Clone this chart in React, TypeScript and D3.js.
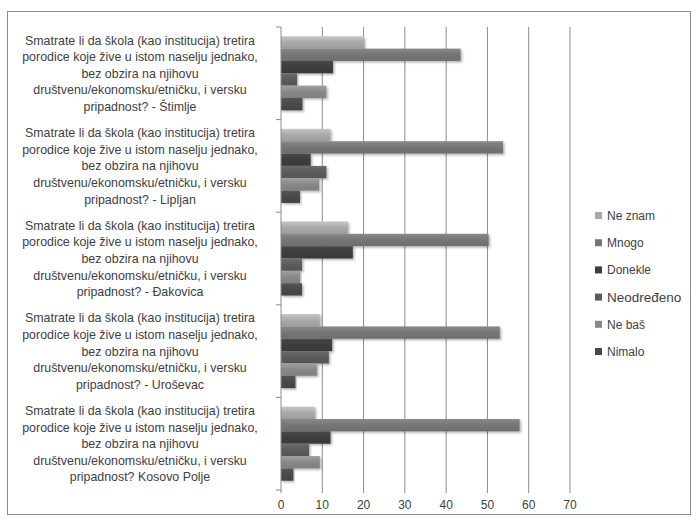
import React from "react";
import * as d3 from "d3";

const categories: string[][] = [
  ["Smatrate li da škola (kao institucija) tretira", "porodice koje žive u istom naselju jednako,", "bez obzira na njihovu", "društvenu/ekonomsku/etničku, i versku", "pripadnost? - Štimlje"],
  ["Smatrate li da škola (kao institucija) tretira", "porodice koje žive u istom naselju jednako,", "bez obzira na njihovu", "društvenu/ekonomsku/etničku, i versku", "pripadnost? - Lipljan"],
  ["Smatrate li da škola (kao institucija) tretira", "porodice koje žive u istom naselju jednako,", "bez obzira na njihovu", "društvenu/ekonomsku/etničku, i versku", "pripadnost? - Đakovica"],
  ["Smatrate li da škola (kao institucija) tretira", "porodice koje žive u istom naselju jednako,", "bez obzira na njihovu", "društvenu/ekonomsku/etničku, i versku", "pripadnost? - Uroševac"],
  ["Smatrate li da škola (kao institucija) tretira", "porodice koje žive u istom naselju jednako,", "bez obzira na njihovu", "društvenu/ekonomsku/etničku, i versku", "pripadnost? Kosovo Polje"],
];

const seriesNames = ["Ne znam", "Mnogo", "Donekle", "Neodređeno", "Ne baš", "Nimalo"];
const neZnam = [20.1, 12.0, 16.2, 9.4, 8.2];
const mnogo = [43.5, 53.8, 50.3, 53.0, 57.8];
const donekle = [12.6, 7.2, 17.4, 12.4, 12.0];
const neodredjeno = [3.9, 11.0, 5.1, 11.6, 6.8];
const neBas = [11.0, 9.2, 4.6, 8.7, 9.4];
const nimalo = [5.2, 4.6, 5.1, 3.5, 3.0];
const seriesValues = [neZnam, mnogo, donekle, neodredjeno, neBas, nimalo];
const xTicks = [0, 10, 20, 30, 40, 50, 60, 70];

const colors = ["#a9a9a9", "#757575", "#3d3d3d", "#5b5b5b", "#888888", "#484848"];

export default function App() {
  const W = 699, H = 520;
  const left = 281, right = 570, top = 27, bottom = 490;
  const x = d3.scaleLinear().domain([0, 70]).range([left, right]);
  const idx = categories.map((_, i) => String(i));
  const y = d3.scaleBand<string>().domain(idx).range([top, bottom]).paddingInner(0).paddingOuter(0);
  const inner = d3.scaleBand<string>().domain(seriesNames).range([0, y.bandwidth()]).paddingInner(0).paddingOuter(0.75);
  const font = "'Liberation Sans', Arial, sans-serif";
  const labelX = 140;
  const lineH = 16.6;
  const legendY0 = 216;
  const legendStep = 27.2;

  return (
    <svg width={W} height={H} style={{ position: "absolute", left: 0, top: 0, background: "#fff" }} fontFamily={font}>
      <defs>
        {colors.map((c, i) => {
          const base = d3.color(c)!;
          return (
            <linearGradient key={i} id={`g${i}`} x1="0" y1="0" x2="0" y2="1">
              <stop offset="0" stopColor={base.brighter(0.45).formatHex()} />
              <stop offset="0.5" stopColor={c} />
              <stop offset="1" stopColor={base.darker(0.2).formatHex()} />
            </linearGradient>
          );
        })}
        <filter id="sh" x="-5%" y="-30%" width="115%" height="180%">
          <feDropShadow dx="1.5" dy="1.5" stdDeviation="1.2" floodColor="#000" floodOpacity="0.3" />
        </filter>
      </defs>
      <rect x={7.5} y={11.5} width={683} height={503} fill="#fff" stroke="#8c8c8c" strokeWidth={1} />
      {xTicks.filter(t => t > 0).map(t => (
        <line key={t} x1={x(t)} x2={x(t)} y1={top} y2={bottom + 3} stroke="#8a8a8a" strokeWidth={1} />
      ))}
      {seriesValues.map((vals, s) =>
        vals.map((v, i) => (
          <rect key={`${s}-${i}`} x={x(0)} y={y(String(i))! + inner(seriesNames[s])!} width={x(v) - x(0)} height={inner.bandwidth()} fill={`url(#g${s})`} filter="url(#sh)" />
        ))
      )}
      <line x1={x(0)} x2={x(0)} y1={top} y2={bottom + 3} stroke="#8a8a8a" strokeWidth={1} />
      {d3.range(categories.length + 1).map(i => {
        const yy = top + i * y.step();
        return <line key={i} x1={x(0) - 5} x2={x(0)} y1={yy} y2={yy} stroke="#8a8a8a" strokeWidth={1} />;
      })}
      {xTicks.map(t => (
        <text key={t} x={x(t)} y={509} textAnchor="middle" fontSize={12} fill="#404040">{t}</text>
      ))}
      {categories.map((lines, i) => {
        const cy = y(String(i))! + y.bandwidth() / 2;
        const y0 = cy - ((lines.length - 1) / 2) * lineH;
        return lines.map((ln, j) => (
          <text key={`${i}-${j}`} x={labelX} y={y0 + j * lineH + 4.5} textAnchor="middle" fontSize={12.4} fill="#404040">{ln}</text>
        ));
      })}
      {seriesNames.map((n, i) => {
        const ly = legendY0 + i * legendStep;
        return (
          <g key={n}>
            <rect x={595} y={ly - 4} width={7} height={7} fill={colors[i]} />
            <text x={607} y={ly + 4} fontSize={n === "Neodređeno" ? 13.5 : 12} fill="#404040">{n}</text>
          </g>
        );
      })}
    </svg>
  );
}
